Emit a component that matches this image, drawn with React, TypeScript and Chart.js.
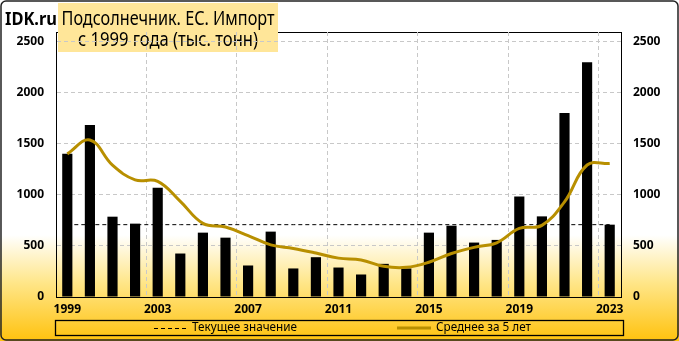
import React, { useEffect, useRef } from 'react';
import { Chart, registerables } from 'chart.js';

Chart.register(...registerables);

const years = ['1999','2000','2001','2002','2003','2004','2005','2006','2007','2008','2009','2010','2011','2012','2013','2014','2015','2016','2017','2018','2019','2020','2021','2022','2023'];
const imports = [1399,1681,785,717,1067,425,629,580,308,639,279,389,288,220,324,279,629,697,532,558,983,788,1798,2294,707];
const avg5 = [1399,1535,1288,1145,1130,935,720,684,600,510,475,430,380,362,300,290,340,425,485,530,670,700,930,1290,1305];
const currentLine = [707,707,707,707,707,707,707,707,707,707,707,707,707,707,707,707,707,707,707,707,707,707,707,707,707];
const yTicks = [0, 500, 1000, 1500, 2000, 2500];
const titleBrand = 'IDK.ru';
const titleLine1 = 'Подсолнечник. ЕС. Импорт';
const titleLine2 = 'с 1999 года (тыс. тонн)';
const legendCurrent = 'Текущее значение';
const legendAvg = 'Среднее за 5 лет';

const GOLD = '#B88F00';
const FONT = '"Noto Sans", sans-serif';

const decorPlugin = {
  id: 'decor',
  beforeDraw(chart: any) {
    const { ctx, width, height, chartArea } = chart;
    ctx.save();
    const g = ctx.createLinearGradient(0, 235, 0, height);
    g.addColorStop(0, '#FFFFFF');
    g.addColorStop(0.45, '#FFE689');
    g.addColorStop(1, '#FFC20E');
    ctx.fillStyle = g;
    ctx.fillRect(0, 0, width, height);
    // plot frame
    ctx.strokeStyle = '#000';
    ctx.lineWidth = 1;
    ctx.strokeRect(Math.round(chartArea.left) + 0.5, Math.round(chartArea.top) + 0.5,
      Math.round(chartArea.right - chartArea.left), Math.round(chartArea.bottom - chartArea.top));
    // title box
    ctx.fillStyle = '#FFE699';
    ctx.fillRect(58, 3, 220, 49);
    ctx.fillStyle = '#000';
    ctx.textBaseline = 'middle';
    ctx.font = `19px ${FONT}`;
    ctx.textAlign = 'center';
    ctx.fillText(titleLine1, 168, 20, 213);
    ctx.fillText(titleLine2, 168, 41, 180);
    ctx.textAlign = 'left';
    ctx.font = `bold 18px ${FONT}`;
    ctx.fillText(titleBrand, 5, 20, 52);
    ctx.restore();
  },
  afterDraw(chart: any) {
    const { ctx, width, height } = chart;
    ctx.save();
    // legend box
    ctx.strokeStyle = '#000';
    ctx.lineWidth = 1.3;
    ctx.strokeRect(55.5, 320.5, 568, 15);
    const ly = 328;
    ctx.setLineDash([4, 3]);
    ctx.lineWidth = 1;
    ctx.beginPath();
    ctx.moveTo(154, ly + 0.5);
    ctx.lineTo(187, ly + 0.5);
    ctx.stroke();
    ctx.setLineDash([]);
    ctx.strokeStyle = GOLD;
    ctx.lineWidth = 3;
    ctx.beginPath();
    ctx.moveTo(397, ly);
    ctx.lineTo(431, ly);
    ctx.stroke();
    ctx.fillStyle = '#000';
    ctx.font = `12px ${FONT}`;
    ctx.textBaseline = 'middle';
    ctx.textAlign = 'left';
    ctx.fillText(legendCurrent, 192, ly, 105);
    ctx.fillText(legendAvg, 436, ly, 95);
    // outer border
    ctx.strokeStyle = '#222';
    ctx.lineWidth = 1.5;
    ctx.beginPath();
    (ctx as any).roundRect(1, 1, width - 2, height - 2, 5);
    ctx.stroke();
    ctx.restore();
  },
};

export default function App() {
  const ref = useRef<HTMLCanvasElement | null>(null);
  useEffect(() => {
    if (!ref.current) return;
    const filterTicks = (scale: any) => {
      scale.ticks = yTicks.map((v) => ({ value: v }));
    };
    const tickFont = { family: FONT, size: 12, weight: 'bold' };
    const chart = new Chart(ref.current, {
      type: 'bar',
      data: {
        labels: years,
        datasets: [
          {
            type: 'line',
            label: legendAvg,
            data: avg5,
            borderColor: GOLD,
            borderWidth: 3,
            pointRadius: 0,
            tension: 0.4,
            fill: false,
            order: 0,
            yAxisID: 'y',
          } as any,
          {
            type: 'bar',
            label: 'Импорт',
            data: imports,
            backgroundColor: '#000',
            borderWidth: 0,
            barPercentage: 0.45,
            categoryPercentage: 1,
            order: 1,
            yAxisID: 'y',
          },
          {
            type: 'line',
            label: legendCurrent,
            data: currentLine,
            borderColor: '#000',
            borderWidth: 1,
            borderDash: [4, 3],
            pointRadius: 0,
            fill: false,
            order: 2,
            yAxisID: 'y',
          } as any,
        ],
      },
      options: {
        responsive: false,
        animation: false,
        devicePixelRatio: 1,
        layout: { padding: { top: 32, left: 0, right: 0, bottom: 0 } },
        plugins: { legend: { display: false }, tooltip: { enabled: false } },
        scales: {
          x: {
            offset: true,
            grid: {
              offset: true,
              drawTicks: false,
              color: (c: any) => (c.index % 4 === 0 && c.index > 0 ? '#C8C8C8' : 'rgba(0,0,0,0)'),
            },
            border: { display: true, color: '#000', dash: [4, 3] },
            ticks: {
              autoSkip: false,
              maxRotation: 0,
              padding: 5,
              color: '#000',
              font: tickFont,
              callback: (_v: any, i: number) => (i % 4 === 0 ? years[i] : ''),
            },
            afterFit: (s: any) => { s.height = 44; },
          },
          y: {
            position: 'left',
            min: 0,
            max: 2590,
            afterBuildTicks: filterTicks,
            grid: { color: '#C8C8C8', drawTicks: false },
            border: { display: true, color: '#000', dash: [4, 3] },
            ticks: {
              padding: 12,
              color: '#000',
              font: tickFont,
              callback: (v: any) => String(v),
            },
            afterFit: (s: any) => { s.width = 56; },
          },
          y2: {
            position: 'right',
            min: 0,
            max: 2590,
            afterBuildTicks: filterTicks,
            grid: { display: false, drawTicks: false },
            border: { display: false },
            ticks: {
              padding: 12,
              color: '#000',
              font: tickFont,
              callback: (v: any) => String(v),
            },
            afterFit: (s: any) => { s.width = 58; },
          },
        },
      } as any,
      plugins: [decorPlugin],
    });
    return () => chart.destroy();
  }, []);
  return (
    <div style={{ position: 'absolute', left: 0, top: 0, width: 679, height: 341 }}>
      <canvas ref={ref} width={679} height={341} style={{ display: 'block' }} />
    </div>
  );
}
